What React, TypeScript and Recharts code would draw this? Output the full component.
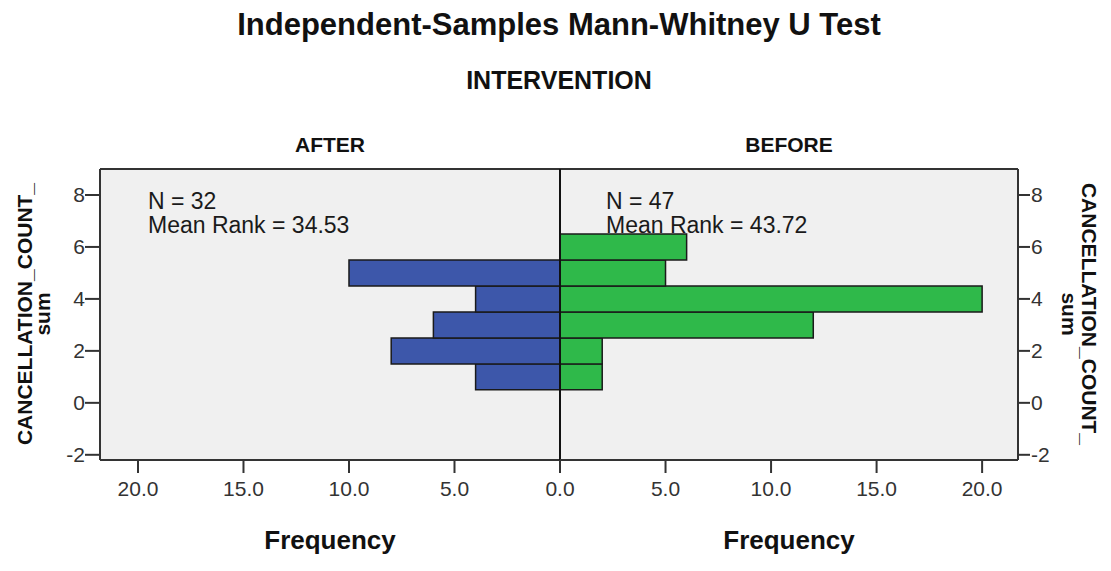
import React from 'react';
import { BarChart, Bar, XAxis, YAxis, CartesianGrid, ReferenceLine } from 'recharts';

const bins = [1, 2, 3, 4, 5, 6];
const afterCounts = [4, 8, 6, 4, 10, 0];
const beforeCounts = [2, 2, 12, 20, 5, 6];
const yTicks = [-2, 0, 2, 4, 6, 8];
const xTicks = [0, 5, 10, 15, 20];
const groupLabels = ['AFTER', 'BEFORE'];
const groupN = [32, 47];
const meanRanks = ['34.53', '43.72'];

const afterData = bins.map((bin, i) => ({ bin, count: afterCounts[i] }));
const beforeData = bins.map((bin, i) => ({ bin, count: beforeCounts[i] }));

const FONT = '"Liberation Sans", Arial, sans-serif';
const FRAME = '#333333';
const Y_DOMAIN: [number, number] = [-2.2, 9];

const tickStyle = { fill: '#333333', fontSize: 21, fontFamily: FONT };

function Panel({ data, side, color }: { data: { bin: number; count: number }[]; side: 'left' | 'right'; color: string }) {
  const isLeft = side === 'left';
  // the shared 0.0 tick label is drawn by the right panel only
  const fmt = (v: number) => (isLeft && v === 0 ? '' : v.toFixed(1));
  return (
    <BarChart
      width={isLeft ? 561 : 551}
      height={571}
      layout="vertical"
      data={data}
      barCategoryGap={0}
      margin={isLeft ? { top: 169, right: 1, bottom: 61, left: 60 } : { top: 169, right: 53, bottom: 61, left: 0 }}
    >
      <CartesianGrid horizontal={false} vertical={false} fill="#f0f0f0" />
      <XAxis
        type="number"
        domain={isLeft ? [0, 21.8] : [0, 21.7]}
        reversed={isLeft}
        ticks={xTicks}
        interval={0}
        tickFormatter={fmt}
        height={50}
        tickSize={13}
        tickMargin={8}
        tick={tickStyle}
        axisLine={{ stroke: FRAME, strokeWidth: 2 }}
        tickLine={{ stroke: FRAME, strokeWidth: 2 }}
      />
      <YAxis
        type="number"
        dataKey="bin"
        orientation={isLeft ? 'left' : 'right'}
        domain={Y_DOMAIN}
        reversed
        ticks={yTicks}
        interval={0}
        width={40}
        tickSize={isLeft ? 15 : 12}
        tickMargin={isLeft ? 0 : 1}
        tick={tickStyle}
        axisLine={{ stroke: FRAME, strokeWidth: 2 }}
        tickLine={{ stroke: FRAME, strokeWidth: 2 }}
      />
      <Bar dataKey="count" fill={color} stroke="#1a1a1a" strokeWidth={1.5} isAnimationActive={false} />
      <ReferenceLine y={Y_DOMAIN[1]} stroke={FRAME} strokeWidth={2} />
      <ReferenceLine x={0} stroke="#111111" strokeWidth={2} />
    </BarChart>
  );
}

export default function App() {
  const bold = { fontFamily: FONT, fontWeight: 700, fill: '#111111' };
  const plain = { fontFamily: FONT, fill: '#1a1a1a', fontSize: 23 };
  return (
    <div style={{ position: 'absolute', left: 0, top: 0, width: 1111, height: 571, background: '#fff', overflow: 'hidden' }}>
      <style>{'.recharts-surface { overflow: visible; }'}</style>
      <div style={{ position: 'absolute', left: 0, top: 0 }}>
        <Panel data={afterData} side="left" color="#3d57aa" />
      </div>
      <div style={{ position: 'absolute', left: 560, top: 0 }}>
        <Panel data={beforeData} side="right" color="#2fb94a" />
      </div>
      <svg width={1111} height={571} style={{ position: 'absolute', left: 0, top: 0, pointerEvents: 'none' }}>
        <text x={559} y={35} textAnchor="middle" fontSize={31} {...bold}>
          Independent-Samples Mann-Whitney U Test
        </text>
        <text x={559} y={89} textAnchor="middle" fontSize={25} {...bold}>
          INTERVENTION
        </text>
        <text x={330} y={152} textAnchor="middle" fontSize={21} {...bold}>{groupLabels[0]}</text>
        <text x={789} y={152} textAnchor="middle" fontSize={21} {...bold}>{groupLabels[1]}</text>
        <text x={330} y={549} textAnchor="middle" fontSize={26} {...bold}>Frequency</text>
        <text x={789} y={549} textAnchor="middle" fontSize={26} {...bold}>Frequency</text>
        <text x={148} y={209} {...plain}>N = {groupN[0]}</text>
        <text x={148} y={233} {...plain}>Mean Rank = {meanRanks[0]}</text>
        <text x={606} y={209} {...plain}>N = {groupN[1]}</text>
        <text x={606} y={233} {...plain}>Mean Rank = {meanRanks[1]}</text>
        <g transform="translate(32,314) rotate(-90)">
          <text x={0} y={0} textAnchor="middle" fontSize={21} {...bold}>CANCELLATION_COUNT_</text>
        </g>
        <g transform="translate(50,314) rotate(-90)">
          <text x={0} y={0} textAnchor="middle" fontSize={21} {...bold}>sum</text>
        </g>
        <g transform="translate(1082,314) rotate(90)">
          <text x={0} y={0} textAnchor="middle" fontSize={21} {...bold}>CANCELLATION_COUNT_</text>
        </g>
        <g transform="translate(1062,314) rotate(90)">
          <text x={0} y={0} textAnchor="middle" fontSize={21} {...bold}>sum</text>
        </g>
      </svg>
    </div>
  );
}
